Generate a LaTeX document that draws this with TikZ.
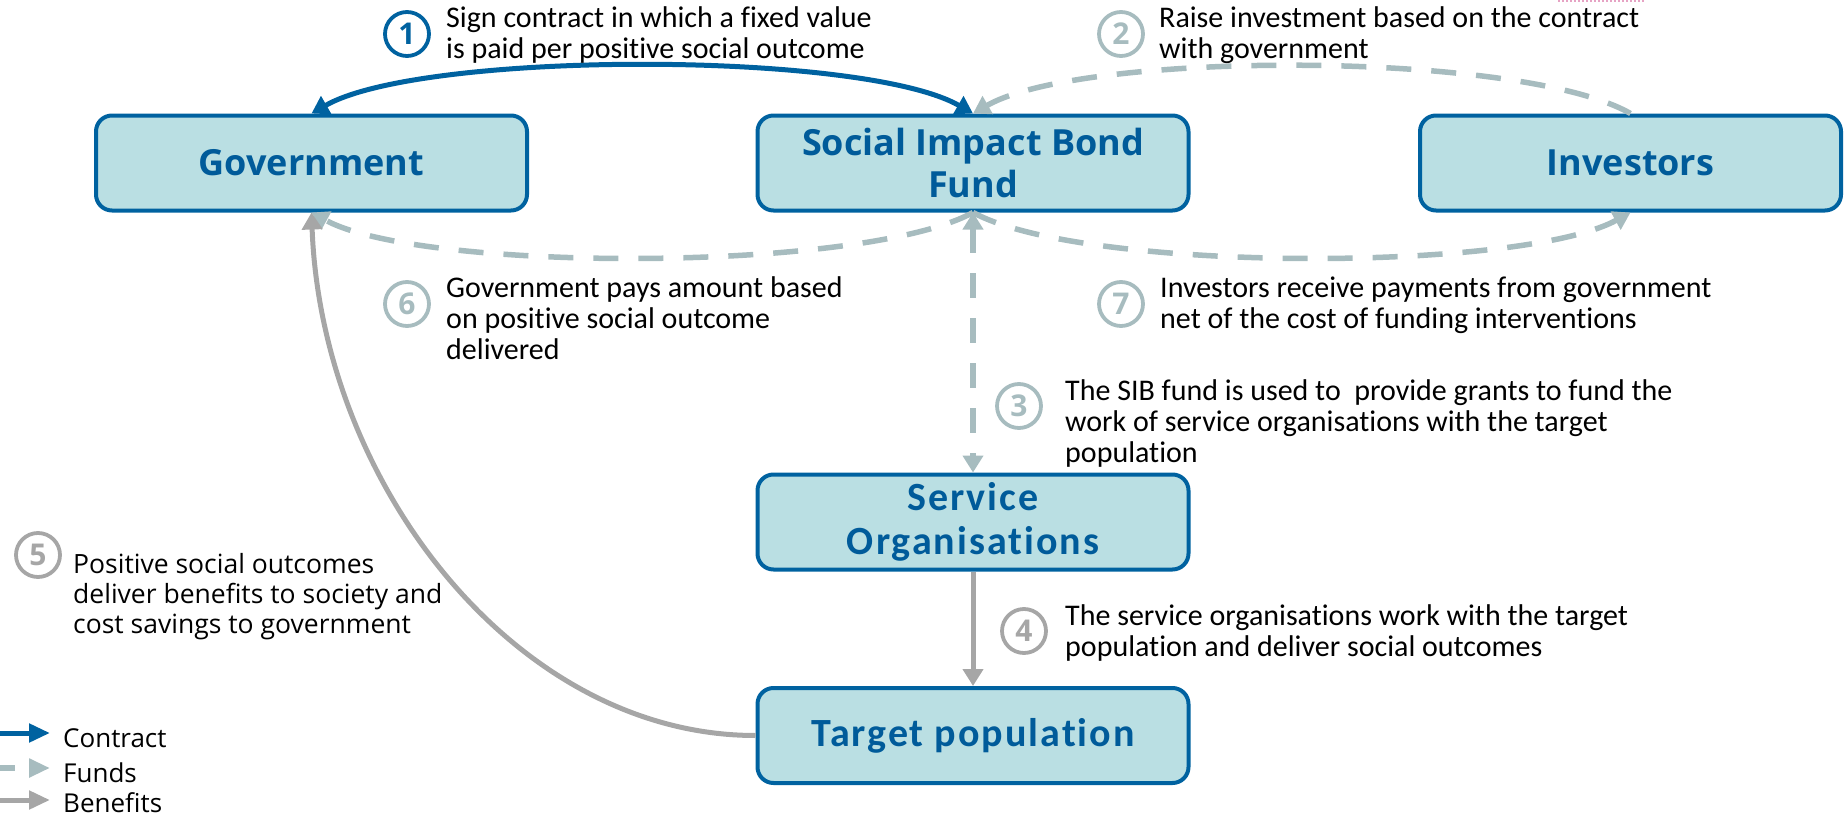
\documentclass[tikz,border=0pt]{standalone}
\usepackage{fontspec}
\setmainfont{Carlito}[Ligatures=NoCommon]
\newfontfamily\osans{Open Sans}
\usetikzlibrary{arrows.meta}
\definecolor{boxfill}{HTML}{BADFE3}
\definecolor{boxline}{HTML}{0062A0}
\definecolor{titleblue}{HTML}{005B9A}
\definecolor{fundgray}{HTML}{A7BCBF}
\definecolor{benegray}{HTML}{A6A6A6}
\definecolor{pinkdot}{HTML}{E6A3C4}
\begin{document}
\begin{tikzpicture}[x=1pt,y=-1pt,
  >={Triangle[length=17pt,width=20pt]},
  box/.style={draw=boxline, line width=4pt, fill=boxfill, rounded corners=16pt,
    minimum width=431pt, minimum height=95pt, align=center, inner sep=0pt, text=titleblue},
  ttop/.style={font=\osans\bfseries\fontsize{36}{42}\selectfont},
  tlow/.style={font=\bfseries\fontsize{40}{44}\selectfont\addfontfeature{LetterSpace=5}},
  contract/.style={draw=boxline, line width=5pt},
  funds/.style={draw=fundgray, line width=5.5pt, dash pattern=on 25pt off 20pt},
  benefits/.style={draw=benegray, line width=5pt},
  num/.style={circle, draw, line width=3.8pt, minimum size=44pt, inner sep=0pt,
    font=\osans\bfseries\fontsize{30}{30}\selectfont},
  desc/.style={anchor=base west, inner sep=0pt, font=\fontsize{30}{31}\selectfont},
  descos/.style={anchor=base west, inner sep=0pt, font=\osans\fontsize{26.5}{30}\selectfont},
  legtxt/.style={anchor=base west, inner sep=0pt, font=\osans\fontsize{26}{30}\selectfont}
]
\useasboundingbox (0,0) rectangle (1845,816);

% boxes
\node[box, ttop] (gov) at (311.5,163) {Government};
\node[box, ttop] (sib) at (973,163) {Social Impact Bond\\Fund};
\node[box, ttop, minimum width=421pt] (inv) at (1630.5,163) {Investors};
\node[box, tlow] (so) at (973,522) {Service\\Organisations};
\node[box, tlow] (tp) at (973,735.5) {Target population};

% funds connectors
\draw[funds, ->] (inv.north) .. controls +(-110,-63) and +(110,-63) .. (sib.north);
\draw[funds, ->] (sib.south) .. controls +(-110,60) and +(110,60) .. (gov.south);
\draw[funds, ->] (sib.south) .. controls +(110,60) and +(-110,60) .. (inv.south);
\draw[funds, <->] (sib.south) -- (so.north);

% benefits connectors
\draw[benefits, ->] (so.south) -- (tp.north);
\draw[benefits, ->] (tp.west) .. controls +(-240,0) and +(10,270) .. (gov.south);

% contract connector
\draw[contract, <->] (gov.north) .. controls +(110,-63) and +(-110,-63) .. (sib.north);

% numbered circles
\node[num, draw=boxline, text=boxline] (n1) at (407,34) {1};
\node[num, draw=fundgray, text=fundgray] (n2) at (1121,34) {2};
\node[num, draw=fundgray, text=fundgray] (n3) at (1019,406) {3};
\node[num, draw=benegray, text=benegray] (n4) at (1024,631) {4};
\node[num, draw=benegray, text=benegray] (n5) at (38,555) {5};
\node[num, draw=fundgray, text=fundgray] (n6) at (407,304) {6};
\node[num, draw=fundgray, text=fundgray] (n7) at (1121,304) {7};

% descriptions
\node[desc] (d1) at (446,28) {\parbox[t]{800pt}{Sign contract in which a fixed value\\is paid per positive social outcome}};
\node[desc] (d2) at (1159,28) {\parbox[t]{680pt}{Raise investment based on the contract\\with government}};
\node[desc] (d3) at (1065,400) {\parbox[t]{770pt}{The SIB fund is used to~ provide grants to fund the\\work of service organisations with the target\\population}};
\node[desc] (d4) at (1065,625) {\parbox[t]{770pt}{The service organisations work with the target\\population and deliver social outcomes}};
\node[descos] (d5) at (73,573) {\parbox[t]{600pt}{Positive social outcomes\\deliver benefits to society and\\cost savings to government}};
\node[desc] (d6) at (446,297) {\parbox[t]{600pt}{Government pays amount based\\on positive social outcome\\delivered}};
\node[desc] (d7) at (1160,297) {\parbox[t]{680pt}{Investors receive payments from government\\net of the cost of funding interventions}};

% legend
\coordinate (lc0) at (0,733); \coordinate (lc1) at (50,733);
\coordinate (lf0) at (0,768); \coordinate (lf1) at (50,768);
\coordinate (lb0) at (0,800); \coordinate (lb1) at (50,800);
\draw[contract, -{Triangle[length=21pt,width=18pt]}] (lc0) -- (lc1);
\draw[funds, dash pattern=on 15pt off 30pt, -{Triangle[length=21pt,width=18pt]}] (lf0) -- (lf1);
\draw[benefits, -{Triangle[length=21pt,width=18pt]}] (lb0) -- (lb1);
\node[legtxt] (lgc) at (63,747) {Contract};
\node[legtxt] (lgf) at (63,782) {Funds};
\node[legtxt] (lgb) at (63,812) {Benefits};

% stray pink dotted mark at top
\coordinate (pk0) at (1558,1.5); \coordinate (pk1) at (1645,1.5);
\draw[pinkdot, line width=2pt, dotted] (pk0) -- (pk1);
\end{tikzpicture}
\end{document}
